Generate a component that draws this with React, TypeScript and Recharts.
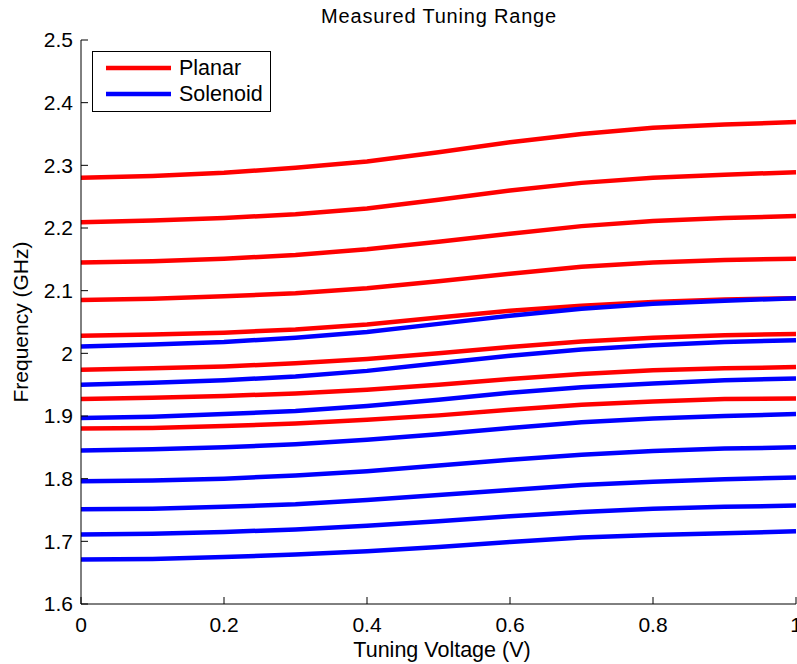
import React from 'react'
import { LineChart, Line, XAxis, YAxis } from 'recharts'

// tuning voltage sweep (V)
const voltage = [0, 0.1, 0.2, 0.3, 0.4, 0.5, 0.6, 0.7, 0.8, 0.9, 1.0]

// planar resonators, frequency in GHz
const planar1 = [2.280, 2.283, 2.288, 2.296, 2.306, 2.321, 2.337, 2.350, 2.360, 2.365, 2.369]
const planar2 = [2.209, 2.212, 2.216, 2.222, 2.231, 2.245, 2.260, 2.272, 2.280, 2.285, 2.289]
const planar3 = [2.145, 2.147, 2.151, 2.157, 2.166, 2.178, 2.191, 2.203, 2.211, 2.216, 2.219]
const planar4 = [2.085, 2.087, 2.091, 2.096, 2.104, 2.115, 2.127, 2.138, 2.145, 2.149, 2.151]
const planar5 = [2.028, 2.030, 2.033, 2.038, 2.046, 2.057, 2.068, 2.076, 2.082, 2.086, 2.088]
const planar6 = [1.974, 1.976, 1.979, 1.984, 1.991, 2.000, 2.010, 2.019, 2.025, 2.029, 2.031]
const planar7 = [1.927, 1.929, 1.932, 1.936, 1.942, 1.950, 1.959, 1.967, 1.973, 1.976, 1.978]
const planar8 = [1.880, 1.881, 1.884, 1.888, 1.894, 1.901, 1.910, 1.918, 1.923, 1.927, 1.928]

// solenoid resonators, frequency in GHz
const solenoid1 = [2.011, 2.014, 2.018, 2.025, 2.034, 2.047, 2.060, 2.071, 2.079, 2.084, 2.088]
const solenoid2 = [1.950, 1.953, 1.957, 1.963, 1.972, 1.984, 1.996, 2.006, 2.013, 2.018, 2.021]
const solenoid3 = [1.897, 1.899, 1.903, 1.908, 1.916, 1.926, 1.937, 1.946, 1.952, 1.957, 1.960]
const solenoid4 = [1.845, 1.847, 1.850, 1.855, 1.862, 1.871, 1.881, 1.890, 1.896, 1.900, 1.903]
const solenoid5 = [1.796, 1.797, 1.800, 1.805, 1.812, 1.821, 1.830, 1.838, 1.844, 1.848, 1.850]
const solenoid6 = [1.751, 1.752, 1.755, 1.759, 1.766, 1.774, 1.782, 1.790, 1.795, 1.799, 1.802]
const solenoid7 = [1.711, 1.712, 1.715, 1.719, 1.725, 1.732, 1.740, 1.747, 1.752, 1.755, 1.757]
const solenoid8 = [1.671, 1.672, 1.675, 1.679, 1.684, 1.691, 1.699, 1.706, 1.710, 1.713, 1.716]

const xTicks = [0, 0.2, 0.4, 0.6, 0.8, 1]
const yTicks = [1.6, 1.7, 1.8, 1.9, 2, 2.1, 2.2, 2.3, 2.4, 2.5]

const planarSeries = [planar1, planar2, planar3, planar4, planar5, planar6, planar7, planar8]
const solenoidSeries = [solenoid1, solenoid2, solenoid3, solenoid4, solenoid5, solenoid6, solenoid7, solenoid8]

const RED = '#ff0000'
const BLUE = '#0000ff'
const FONT = '"Liberation Sans", Arial, Helvetica, sans-serif'

const rows = voltage.map((v, i) => {
  const row: Record<string, number> = { v }
  planarSeries.forEach((s, k) => { row[`p${k}`] = s[i] })
  solenoidSeries.forEach((s, k) => { row[`s${k}`] = s[i] })
  return row
})

const fmtX = (v: number) => (v === 0 || v === 1 ? String(v) : v.toFixed(1))
const fmtY = (v: number) => (Number.isInteger(v) ? String(v) : v.toFixed(1))
const blank = () => ''

const tickFont = { fill: '#000', fontSize: 21, fontFamily: FONT }
const axisStroke = { stroke: '#000', strokeWidth: 1 }

export default function App() {
  return (
    <div style={{ position: 'absolute', left: 0, top: 0, width: 797, height: 664, background: '#fff' }}>
      <LineChart
        width={797}
        height={664}
        data={rows}
        margin={{ top: 40, right: 1, bottom: 0, left: 0 }}
      >
        <XAxis
          xAxisId="bottom"
          dataKey="v"
          type="number"
          domain={[0, 1]}
          ticks={xTicks}
          tickFormatter={fmtX}
          height={60}
          tickSize={-7}
          tickMargin={20}
          axisLine={axisStroke}
          tickLine={axisStroke}
          tick={tickFont}
          interval={0}
        />
        <XAxis
          xAxisId="top"
          orientation="top"
          dataKey="v"
          type="number"
          domain={[0, 1]}
          ticks={xTicks}
          tickFormatter={blank}
          height={0}
          tickSize={-7}
          axisLine={axisStroke}
          tickLine={axisStroke}
          interval={0}
        />
        <YAxis
          yAxisId="left"
          type="number"
          domain={[1.6, 2.5]}
          ticks={yTicks}
          tickFormatter={fmtY}
          width={81}
          tickSize={-7}
          tickMargin={15}
          axisLine={axisStroke}
          tickLine={axisStroke}
          tick={tickFont}
          interval={0}
        />
        <YAxis
          yAxisId="right"
          orientation="right"
          type="number"
          domain={[1.6, 2.5]}
          ticks={yTicks}
          tickFormatter={blank}
          width={0}
          tickSize={-7}
          axisLine={axisStroke}
          tickLine={axisStroke}
          interval={0}
        />
        {planarSeries.map((_, k) => (
          <Line
            key={`p${k}`}
            xAxisId="bottom"
            yAxisId="left"
            type="linear"
            dataKey={`p${k}`}
            stroke={RED}
            strokeWidth={4.5}
            dot={false}
            activeDot={false}
            isAnimationActive={false}
          />
        ))}
        {solenoidSeries.map((_, k) => (
          <Line
            key={`s${k}`}
            xAxisId="bottom"
            yAxisId="left"
            type="linear"
            dataKey={`s${k}`}
            stroke={BLUE}
            strokeWidth={4.5}
            dot={false}
            activeDot={false}
            isAnimationActive={false}
          />
        ))}
      </LineChart>

      {/* title, axis labels and legend box */}
      <svg
        width={797}
        height={664}
        style={{ position: 'absolute', left: 0, top: 0, pointerEvents: 'none' }}
        fontFamily={FONT}
      >
        <text x={439} y={23} textAnchor="middle" fontSize={20} letterSpacing={0.8} fill="#000">
          Measured Tuning Range
        </text>
        <text x={442} y={657} textAnchor="middle" fontSize={21.5} fill="#000">
          Tuning Voltage (V)
        </text>
        <text
          transform="translate(28, 322) rotate(-90)"
          textAnchor="middle"
          fontSize={21}
          fill="#000"
        >
          Frequency (GHz)
        </text>

        <rect x={92.5} y={51.5} width={178} height={60} fill="#fff" stroke="#000" strokeWidth={1} />
        <line x1={106} y1={68} x2={171} y2={68} stroke={RED} strokeWidth={4.5} />
        <text x={179} y={75} fontSize={21.5} fill="#000">Planar</text>
        <line x1={106} y1={94} x2={171} y2={94} stroke={BLUE} strokeWidth={4.5} />
        <text x={179} y={101} fontSize={21.5} fill="#000">Solenoid</text>
      </svg>
    </div>
  )
}
